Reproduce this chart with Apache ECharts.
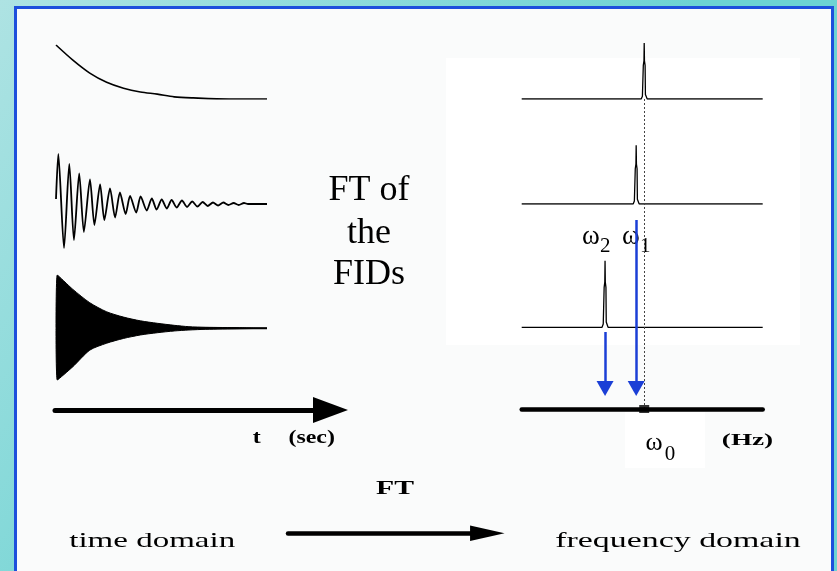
<!DOCTYPE html>
<html>
<head>
<meta charset="utf-8">
<script src="https://cdn.jsdelivr.net/npm/echarts@6/dist/echarts.min.js"></script>
<style>
  html, body { margin: 0; padding: 0; background: #fff; }
  #chart { width: 837px; height: 571px; }
</style>
</head>
<body>
<div id="chart"></div>
<script>
// ---- time domain (t runs 0..100, arbitrary units) ----
// on-resonance FID: plain exponential decay
const decayT   = [0, 8, 16, 24, 32, 40, 48, 56, 65, 82, 100];
const decayAmp = [1.0, 0.72, 0.48, 0.31, 0.20, 0.13, 0.09, 0.04, 0.02, 0, 0];

// slightly off-resonance FID: slow beat (peaks and troughs)
const fidT   = [0, 1.1, 3.8, 6.3, 8.5, 11.0, 13.2, 16.1, 18.2, 20.9, 22.9, 25.6, 28.0, 30.3, 33.0,
                35.1, 38.0, 40.1, 43.0, 45.4, 47.7, 50.1, 52.5, 54.8, 57.2, 59.7, 62.1, 64.6, 67.0,
                69.5, 71.9, 74.4, 76.8, 79.3, 81.7, 84.2, 86.6, 89.1, 91.0, 100];
const fidAmp = [0.1, 1.0, -0.88, 0.80, -0.72, 0.61, -0.56, 0.49, -0.42, 0.39, -0.32, 0.31, -0.27, 0.23, -0.20,
                0.16, -0.17, 0.15, -0.13, 0.11, -0.11, 0.09, -0.09, 0.08, -0.07, 0.07, -0.06, 0.05, -0.05,
                0.04, -0.04, 0.03, -0.03, 0.03, -0.02, 0.02, -0.02, 0.02, 0, 0];

// far off-resonance FID: fast oscillation, drawn as its envelope
const denseT     = [0, 0.6, 8, 16, 24, 32, 40, 48, 56, 63, 71, 87, 100];
const denseUpper = [0, 1.0, 0.73, 0.48, 0.31, 0.21, 0.14, 0.094, 0.056, 0.03, 0.019, 0.011, 0];
const denseLower = [0, -0.97, -0.72, -0.41, -0.28, -0.19, -0.125, -0.083, -0.05, -0.032, -0.019, -0.008, 0];
const denseZero  = [0, 0];          // its baseline, at both ends of the record
const denseZeroT = [0, 100];

// ---- frequency domain (axis 0..240) ----
const omega0 = 122;   // reference (carrier) frequency
const omega1 = 114;
const omega2 = 83;
const peakCenters = [omega0, omega1, omega2];
const peakHeights = [0.80, 0.84, 0.95];
// narrow line shape: offset from centre, relative height
const shapeOffset = [-3, -1.8, -1.2, -0.9, -0.25, 0, 0.25, 0.9, 1.2, 1.8, 3];
const shapeHeight = [0, 0.05, 0.08, 0.6, 0.68, 1, 0.68, 0.6, 0.08, 0.05, 0];

const zip = (xs, ys) => xs.map((x, i) => [x, ys[i]]);
function spectrum(center, height) {
  const pts = [[0, 0]];
  shapeOffset.forEach((d, i) => pts.push([center + d, shapeHeight[i] * height]));
  pts.push([240, 0]);
  return pts;
}

const SERIF = '"Liberation Serif", "Times New Roman", serif';
const BLUE = '#1b3fd6';

const hiddenAxis = (gridIndex, min, max) => ({ gridIndex, type: 'value', min, max, show: false });
const arrowAxis = (gridIndex, width, size) => ({
  gridIndex, type: 'value', min: 0, max: 1, z: 5,
  axisLine: { show: true, onZero: false, symbol: ['none', 'triangle'], symbolSize: size,
              lineStyle: { color: '#000', width } },
  axisTick: { show: false }, axisLabel: { show: false }, splitLine: { show: false }
});
const lineSeries = (idx, data, extra) => Object.assign({
  type: 'line', xAxisIndex: idx, yAxisIndex: idx, data, showSymbol: false, silent: true,
  lineStyle: { color: '#000', width: 1.5 }
}, extra || {});

function txt(x, y, text, size, opts) {
  opts = opts || {};
  return {
    type: 'text', x, y, z: 1, scaleX: opts.scaleX || 1, silent: true,
    style: { text, fontSize: size, fontFamily: SERIF, fontWeight: opts.bold ? 'bold' : 'normal',
             fill: '#000', align: 'center', verticalAlign: 'middle' }
  };
}

const chart = echarts.init(document.getElementById('chart'), null, { renderer: 'canvas' });
chart.setOption({
  animation: false,
  backgroundColor: {
    type: 'linear', x: 0, y: 0, x2: 0.5, y2: 0.6,
    colorStops: [{ offset: 0, color: '#aee3e3' }, { offset: 1, color: '#6dd3d3' }]
  },
  graphic: [
    { type: 'rect', z: -10, silent: true, shape: { x: 15.5, y: 7.5, width: 817, height: 600 },
      style: { fill: '#fafbfb', stroke: '#1d4fdc', lineWidth: 3 } },
    { type: 'rect', z: -9, silent: true, shape: { x: 446, y: 58, width: 354, height: 287 }, style: { fill: '#ffffff' } },
    { type: 'rect', z: -9, silent: true, shape: { x: 625, y: 412, width: 80, height: 56 }, style: { fill: '#ffffff' } },
    txt(369, 190.5, 'FT of', 36),
    txt(369, 233.8, 'the', 36),
    txt(369, 274.5, 'FIDs', 36),
    txt(591, 236.8, 'ω', 27),
    txt(605.3, 246, '2', 21),
    txt(630.8, 236.8, 'ω', 27),
    txt(645.3, 246, '1', 21),
    txt(654, 442.9, 'ω', 26),
    txt(670, 454.6, '0', 21),
    txt(256.7, 438.5, 't', 19, { bold: true, scaleX: 1.26 }),
    txt(311.7, 438.5, '(sec)', 19, { bold: true, scaleX: 1.26 }),
    txt(747.5, 440.2, '(Hz)', 17, { bold: true, scaleX: 1.6 }),
    txt(395, 488.9, 'FT', 18, { bold: true, scaleX: 1.65 }),
    txt(152.2, 540.8, 'time domain', 22, { scaleX: 1.5 }),
    txt(678, 540.8, 'frequency domain', 22, { scaleX: 1.54 })
  ],
  grid: [
    { left: 56, top: 45, width: 211, height: 54 },          // 0 decay
    { left: 56, top: 154, width: 211, height: 100 },        // 1 beating FID
    { left: 56, top: 275, width: 211, height: 106.6 },      // 2 fast FID
    { left: 55, top: 400, width: 275.5, height: 10 },       // 3 time arrow
    { left: 521.7, top: 29, width: 241, height: 70 },       // 4 spectrum 1
    { left: 521.7, top: 134, width: 241, height: 70 },      // 5 spectrum 2
    { left: 521.7, top: 257.3, width: 241, height: 70 },    // 6 spectrum 3
    { left: 521.7, top: 99, width: 241, height: 310 },      // 7 frequency axis frame
    { left: 288, top: 523.3, width: 199.3, height: 10 }     // 8 FT arrow
  ],
  xAxis: [
    hiddenAxis(0, 0, 100), hiddenAxis(1, 0, 100), hiddenAxis(2, 0, 100),
    arrowAxis(3, 5, [26, 35]),
    hiddenAxis(4, 0, 240), hiddenAxis(5, 0, 240), hiddenAxis(6, 0, 240),
    { gridIndex: 7, type: 'value', min: 0, max: 240, z: 5,
      axisLine: { show: true, onZero: false, lineStyle: { color: '#000', width: 4.5 } },
      axisTick: { show: false }, axisLabel: { show: false }, splitLine: { show: false } },
    arrowAxis(8, 4.5, [15.5, 34.5])
  ],
  yAxis: [
    hiddenAxis(0, 0, 1), hiddenAxis(1, -1, 1), hiddenAxis(2, -1, 1), hiddenAxis(3, 0, 1),
    hiddenAxis(4, 0, 1), hiddenAxis(5, 0, 1), hiddenAxis(6, 0, 1),
    hiddenAxis(7, 0, 310), hiddenAxis(8, 0, 1)
  ],
  series: [
    lineSeries(0, zip(decayT, decayAmp), { smooth: 0.3, lineStyle: { color: '#000', width: 1.6 } }),
    lineSeries(1, zip(fidT, fidAmp), { smooth: 0.25, lineStyle: { color: '#000', width: 1.8 } }),
    // envelope of the fast FID: both halves filled down to zero
    lineSeries(2, zip(denseT, denseUpper), { smooth: 0.25, lineStyle: { color: '#000', width: 1 },
      areaStyle: { color: '#000', opacity: 1 } }),
    lineSeries(2, zip(denseT, denseLower), { smooth: 0.25, lineStyle: { color: '#000', width: 1 },
      areaStyle: { color: '#000', opacity: 1 } }),
    lineSeries(2, zip(denseZeroT, denseZero), { lineStyle: { color: '#000', width: 2 } }),
    lineSeries(3, []),
    lineSeries(4, spectrum(peakCenters[0], peakHeights[0]), { lineStyle: { color: '#000', width: 1.3 } }),
    lineSeries(5, spectrum(peakCenters[1], peakHeights[1]), { lineStyle: { color: '#000', width: 1.3 } }),
    lineSeries(6, spectrum(peakCenters[2], peakHeights[2]), { lineStyle: { color: '#000', width: 1.3 } }),
    {
      type: 'scatter', xAxisIndex: 7, yAxisIndex: 7, silent: true, clip: false, z: 6,
      data: [[omega0, 0]], symbol: 'rect', symbolSize: [10, 8], itemStyle: { color: '#000' },
      markLine: {
        silent: true, animation: false, symbol: ['none', 'none'], label: { show: false },
        data: [
          { xAxis: omega0, lineStyle: { type: [2, 2], color: '#444', width: 1 } },
          [
            { coord: [omega1, 189], lineStyle: { type: 'solid', color: BLUE, width: 2.5 } },
            { coord: [omega1, 20.6], symbol: 'triangle', symbolSize: [17, 15] }
          ],
          [
            { coord: [omega2, 77], lineStyle: { type: 'solid', color: BLUE, width: 2.5 } },
            { coord: [omega2, 20.6], symbol: 'triangle', symbolSize: [17, 15] }
          ]
        ]
      }
    },
    lineSeries(8, [])
  ]
});
</script>
</body>
</html>
